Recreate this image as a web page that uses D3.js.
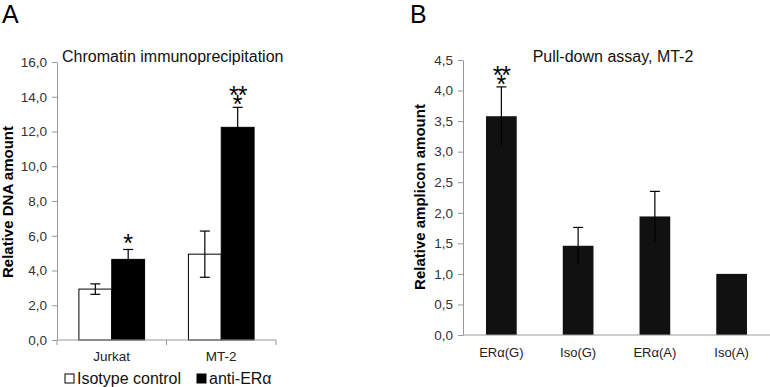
<!DOCTYPE html>
<html>
<head>
  <meta charset="utf-8">
  <script src="https://cdn.jsdelivr.net/npm/d3@7/dist/d3.min.js"></script>
  <style>
    body { margin: 0; background: #fff; }
    svg { display: block; font-family: "Liberation Sans", Arial, sans-serif; }
  </style>
</head>
<body>
  <svg width="770" height="387"></svg>
  <script>
    // panel A: chromatin IP
    const chipGroups = ["Jurkat", "MT-2"];
    const chipSeries = ["Isotype control", "anti-ERα"];
    const chipValues = [[2.93, 4.64], [4.94, 12.24]];
    const chipErrors = [[0.3, 0.57], [1.33, 1.15]];
    const chipStars = [["", "*"], ["", "***"]];
    const chipTicks = [0, 2, 4, 6, 8, 10, 12, 14, 16];

    // panel B: pull-down
    const pullCats = ["ERα(G)", "Iso(G)", "ERα(A)", "Iso(A)"];
    const pullValues = [3.58, 1.46, 1.94, 1.0];
    const pullErrors = [0.48, 0.3, 0.41, 0];
    const pullStars = ["***", "", "", ""];
    const pullTicks = [0, 0.5, 1, 1.5, 2, 2.5, 3, 3.5, 4, 4.5];

    const svg = d3.select("svg");
    const fmt1 = d => d3.format(".1f")(d).replace(".", ",");
    const axisCol = "#999";
    const labCol = "#333";

    function styleAxis(g) {
      g.select(".domain").attr("stroke", axisCol);
      g.selectAll(".tick line").attr("stroke", axisCol);
      g.selectAll(".tick text").attr("fill", labCol).attr("font-size", 13.5);
    }

    function errBar(g, x, yTop, yBot, showBottom) {
      g.append("line").attr("x1", x).attr("x2", x).attr("y1", yTop).attr("y2", yBot)
        .attr("stroke", "#000").attr("stroke-width", 1.2);
      g.append("line").attr("x1", x - 5).attr("x2", x + 5).attr("y1", yTop).attr("y2", yTop)
        .attr("stroke", "#000").attr("stroke-width", 1.2);
      if (showBottom)
        g.append("line").attr("x1", x - 5).attr("x2", x + 5).attr("y1", yBot).attr("y2", yBot)
          .attr("stroke", "#000").attr("stroke-width", 1.2);
    }

    // significance stars, placed relative to the top of the error bar
    function stars(g, x, yTop, s) {
      if (!s) return;
      const t = g.append("text").attr("text-anchor", "middle").attr("font-size", 25);
      if (s.length === 1) {
        t.attr("x", x).attr("y", yTop + 3).text("*");
      } else {
        t.append("tspan").attr("x", x).attr("y", yTop - 3).attr("letter-spacing", -1).text("**");
        t.append("tspan").attr("x", x).attr("y", yTop + 6).text("*");
      }
    }

    // ---------- Panel A ----------
    const yA = d3.scaleLinear().domain([0, 16]).range([340, 62]);
    const xA = d3.scaleBand().domain(chipGroups).range([57, 276])
      .paddingInner(0.4).paddingOuter(0.2);
    const xsA = d3.scaleBand().domain(chipSeries).range([0, xA.bandwidth()]);

    svg.append("text").attr("x", 2).attr("y", 23).attr("font-size", 25).text("A");
    svg.append("text").attr("x", 62).attr("y", 62).attr("font-size", 16)
      .attr("fill", "#111").text("Chromatin immunoprecipitation");

    svg.append("g").attr("transform", "translate(57,0)")
      .call(d3.axisLeft(yA).tickValues(chipTicks).tickFormat(fmt1)
        .tickSize(5).tickPadding(5).tickSizeOuter(0))
      .call(styleAxis);

    const gA = svg.append("g");
    chipGroups.forEach((grp, i) => {
      chipSeries.forEach((ser, j) => {
        const x0 = xA(grp) + xsA(ser);
        const v = chipValues[i][j], e = chipErrors[i][j];
        gA.append("rect").attr("x", x0).attr("y", yA(v))
          .attr("width", xsA.bandwidth()).attr("height", yA(0) - yA(v))
          .attr("fill", j === 0 ? "#fff" : "#000")
          .attr("stroke", "#000").attr("stroke-width", 1);
        const cx = x0 + xsA.bandwidth() / 2;
        errBar(gA, cx, yA(v + e), yA(v - e), j === 0);
        stars(gA, cx, yA(v + e), chipStars[i][j]);
      });
    });

    // x axis A with boundary ticks
    const gxA = svg.append("g");
    gxA.append("line").attr("x1", 57).attr("x2", 276).attr("y1", yA(0)).attr("y2", yA(0))
      .attr("stroke", axisCol);
    [57, (xA(chipGroups[0]) + xA.bandwidth() + xA(chipGroups[1])) / 2, 276].forEach(bx => {
      gxA.append("line").attr("x1", bx).attr("x2", bx).attr("y1", yA(0)).attr("y2", yA(0) + 5)
        .attr("stroke", axisCol);
    });
    chipGroups.forEach(grp => {
      gxA.append("text").attr("x", xA(grp) + xA.bandwidth() / 2).attr("y", 361)
        .attr("text-anchor", "middle").attr("font-size", 13.5).attr("fill", "#222").text(grp);
    });

    svg.append("text").attr("transform", "translate(13,202) rotate(-90)")
      .attr("text-anchor", "middle").attr("font-size", 15).attr("font-weight", "bold")
      .text("Relative DNA amount");

    // legend A
    const legA = svg.append("g");
    [[65, "#fff", chipSeries[0]], [197, "#000", chipSeries[1]]].forEach(([lx, col, name]) => {
      legA.append("rect").attr("x", lx).attr("y", 374).attr("width", 9).attr("height", 9)
        .attr("fill", col).attr("stroke", "#000");
      legA.append("text").attr("x", lx + 12).attr("y", 383.5).attr("font-size", 16)
        .attr("fill", "#111").text(name);
    });

    // ---------- Panel B ----------
    const yB = d3.scaleLinear().domain([0, 4.5]).range([335, 60]);
    const xB = d3.scaleBand().domain(pullCats).range([463, 770])
      .paddingInner(0.6).paddingOuter(0.3);

    svg.append("text").attr("x", 410).attr("y", 23).attr("font-size", 25).text("B");
    svg.append("text").attr("x", 613).attr("y", 62).attr("text-anchor", "middle")
      .attr("font-size", 16).attr("fill", "#111").text("Pull-down assay, MT-2");

    svg.append("g").attr("transform", "translate(463,0)")
      .call(d3.axisLeft(yB).tickValues(pullTicks).tickFormat(fmt1)
        .tickSize(5).tickPadding(5).tickSizeOuter(0))
      .call(styleAxis);

    const gB = svg.append("g");
    pullCats.forEach((c, i) => {
      const v = pullValues[i], e = pullErrors[i];
      gB.append("rect").attr("x", xB(c)).attr("y", yB(v))
        .attr("width", xB.bandwidth()).attr("height", yB(0) - yB(v))
        .attr("fill", "#111");
      const cx = xB(c) + xB.bandwidth() / 2;
      if (e > 0) errBar(gB, cx, yB(v + e), yB(v - e), false);
      stars(gB, cx, yB(v + e), pullStars[i]);
    });

    const gxB = svg.append("g");
    gxB.append("line").attr("x1", 463).attr("x2", 770).attr("y1", yB(0)).attr("y2", yB(0))
      .attr("stroke", axisCol);
    pullCats.forEach(c => {
      gxB.append("text").attr("x", xB(c) + xB.bandwidth() / 2).attr("y", 357)
        .attr("text-anchor", "middle").attr("font-size", 13).attr("fill", "#222").text(c);
    });

    svg.append("text").attr("transform", "translate(425,197) rotate(-90)")
      .attr("text-anchor", "middle").attr("font-size", 15).attr("font-weight", "bold")
      .text("Relative amplicon amount");
  </script>
</body>
</html>
